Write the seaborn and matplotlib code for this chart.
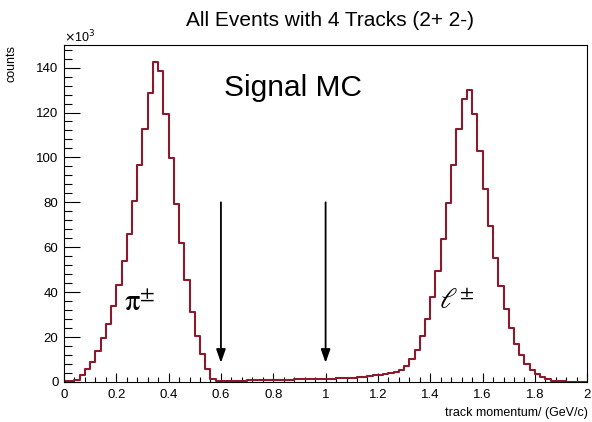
import numpy as np
import pandas as pd
import seaborn as sns
import matplotlib.pyplot as plt
from matplotlib.ticker import MultipleLocator

# 100 bins between 0 and 2 GeV/c
n_bins = 100
p_range = (0, 2)

# counts per bin, in units of 10^3
counts_k = [
    0.2, 0.3, 0.8, 3.0, 5.6, 8.7, 13.8, 19.6, 26.0, 34.0,
    43.0, 54.0, 66.0, 80.4, 96.7, 112.7, 128.6, 142.4, 138.7, 119.4,
    99.9, 79.4, 62.0, 45.3, 31.3, 20.4, 12.3, 5.6, 1.2, 0.6,
    0.5, 0.5, 0.5, 0.55, 0.6, 0.65, 0.7, 0.75, 0.8, 0.85,
    0.9, 0.95, 1.0, 1.05, 1.1, 1.15, 1.2, 1.25, 1.3, 1.35,
    1.4, 1.5, 1.6, 1.7, 1.8, 1.9, 2.1, 2.3, 2.6, 2.9,
    3.2, 3.5, 3.8, 4.2, 5.3, 7.3, 10.4, 14.2, 20.4, 27.9,
    37.6, 49.5, 63.6, 79.7, 96.7, 112.7, 126.1, 130.1, 119.4, 102.7,
    85.9, 69.5, 55.1, 42.8, 32.3, 24.0, 16.9, 11.9, 8.0, 5.5,
    3.6, 2.1, 1.3, 0.6, 0.3, 0.2, 0.15, 0.1, 0.1, 0.1,
]

cut_positions = [0.6, 1.0]

title = "All Events with 4 Tracks (2+ 2-)"
xlabel = "track momentum/ (GeV/c)"
ylabel = "counts"

sns.set_style("white")
plt.rcParams['font.family'] = ['Liberation Sans', 'DejaVu Sans']
plt.rcParams['mathtext.fontset'] = 'stix'
plt.rcParams['text.color'] = 'black'
plt.rcParams['xtick.color'] = 'black'
plt.rcParams['ytick.color'] = 'black'

bin_edges = np.linspace(p_range[0], p_range[1], n_bins + 1)
df = pd.DataFrame({
    'p': (bin_edges[:-1] + bin_edges[1:]) / 2,
    'n': counts_k,
})

fig = plt.figure(figsize=(5.92, 4.22), dpi=100)
ax = fig.add_axes([0.108, 0.095, 0.884, 0.798])

sns.histplot(data=df, x='p', weights='n', bins=n_bins, binrange=p_range,
             element='step', fill=False, color='#8b1a2e', linewidth=1.5, ax=ax)

for xc in cut_positions:
    ax.annotate('', xy=(xc, 8.5), xytext=(xc, 80),
                arrowprops=dict(arrowstyle='-|>,head_length=0.8,head_width=0.28',
                                color='black', lw=1.3, shrinkA=0, shrinkB=0))

ax.text(0.875, 131, "Signal MC", fontsize=21.5, ha='center', va='center')
ax.text(0.29, 35, r'$\mathrm{\pi}^{\pm}$', fontsize=22, ha='center', va='center')
ax.text(1.5, 36, r'$\ell^{\pm}$', fontsize=21, ha='center', va='center')

ax.set_xlim(0, 2)
ax.set_ylim(0, 150)
ax.set_xlabel('')
ax.set_ylabel('')

ax.xaxis.set_minor_locator(MultipleLocator(0.04))
ax.yaxis.set_major_locator(MultipleLocator(20))
ax.yaxis.set_minor_locator(MultipleLocator(4))
ax.set_xticks(np.arange(0, 2.01, 0.2))
ax.set_xticklabels(['0', '0.2', '0.4', '0.6', '0.8', '1', '1.2', '1.4', '1.6', '1.8', '2'])
ax.tick_params(axis='x', which='major', direction='in', length=6.5, width=0.8,
               labelsize=9.5, pad=5)
ax.tick_params(axis='x', which='minor', direction='in', length=3.3, width=0.8)
ax.tick_params(axis='y', which='major', direction='in', length=11.5, width=0.8,
               labelsize=9.5, pad=4)
ax.tick_params(axis='y', which='minor', direction='in', length=5.8, width=0.8)
ax.tick_params(bottom=True, left=True, which='both')
for s in ax.spines.values():
    s.set_linewidth(0.8)
    s.set_color('black')

fig.text(0.557, 0.952, title, fontsize=15, ha='center', va='center')
fig.text(0.993, 0.022, xlabel, fontsize=9, ha='right', va='center')
fig.text(0.02, 0.893, ylabel, fontsize=9, ha='center', va='top', rotation=90)
fig.text(0.108, 0.893, r'$\times$10$^{3}$', fontsize=9, ha='left', va='bottom',
         math_fontfamily='dejavusans')

fig.savefig('out.png', dpi=100)
